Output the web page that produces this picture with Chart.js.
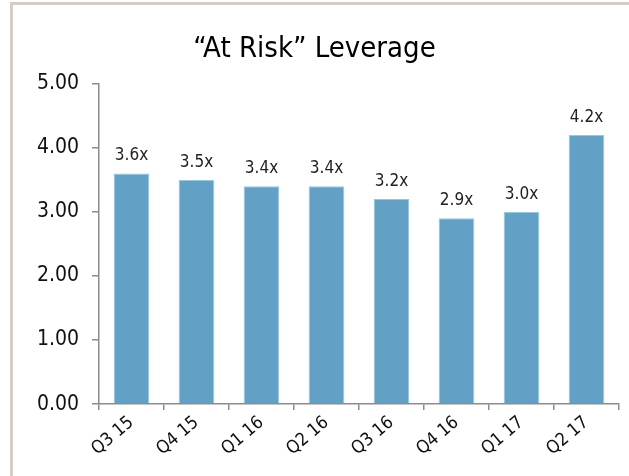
<!DOCTYPE html>
<html>
<head>
<meta charset="utf-8">
<script src="https://cdn.jsdelivr.net/npm/chart.js@4"></script>
<style>
  html, body { margin: 0; padding: 0; background: #fff; overflow: hidden; }
  #frame { position: absolute; left: 10px; top: 2px; width: 619px; height: 474px;
           border-left: 3px solid #d5cdc5; border-top: 3px solid #d5cdc5; box-sizing: border-box; }
  #wrap { position: absolute; left: 0; top: 0; width: 629px; height: 476px; }
</style>
</head>
<body>
<div id="frame"></div>
<div id="wrap"><canvas id="c" width="629" height="476"></canvas></div>
<script>
const quarters = ['Q3 15', 'Q4 15', 'Q1 16', 'Q2 16', 'Q3 16', 'Q4 16', 'Q1 17', 'Q2 17'];
const leverage = [3.6, 3.5, 3.4, 3.4, 3.2, 2.9, 3.0, 4.2];
const yTicks = [0, 1, 2, 3, 4, 5];

const fontFam = "'Liberation Sans Narrow', 'DejaVu Sans Condensed', 'Liberation Sans', sans-serif";

// draw the "3.6x" labels above each bar
const barLabels = {
  id: 'barLabels',
  afterDatasetsDraw(chart) {
    const ctx = chart.ctx;
    const meta = chart.getDatasetMeta(0);
    ctx.save();
    ctx.font = '17px ' + fontFam;
    ctx.fillStyle = '#222';
    ctx.textAlign = 'center';
    ctx.textBaseline = 'bottom';
    meta.data.forEach(function (bar, i) {
      ctx.fillText(leverage[i].toFixed(1) + 'x', bar.x, bar.y - 9);
    });
    ctx.restore();
  }
};

new Chart(document.getElementById('c').getContext('2d'), {
  type: 'bar',
  data: {
    labels: quarters,
    datasets: [{
      data: leverage,
      backgroundColor: '#62a1c5',
      borderColor: '#9cc6de',
      borderWidth: 1,
      barPercentage: 0.55,
      categoryPercentage: 1.0
    }]
  },
  options: {
    responsive: false,
    devicePixelRatio: 1,
    animation: false,
    layout: { padding: { left: 10, right: 10, top: 4, bottom: 14 } },
    plugins: {
      legend: { display: false },
      tooltip: { enabled: false },
      title: {
        display: true,
        text: '\u201cAt Risk\u201d Leverage',
        color: '#000',
        font: { family: fontFam, size: 29, weight: 'normal' },
        padding: { top: 28, bottom: 17 }
      }
    },
    scales: {
      x: {
        grid: { display: true, drawOnChartArea: false, offset: true, tickLength: 6, color: '#8c8c8c', lineWidth: 1.5 },
        border: { color: '#8c8c8c', width: 1.5 },
        ticks: { color: '#111', font: { family: fontFam, size: 18 }, maxRotation: 40, minRotation: 40, padding: 2, autoSkip: false }
      },
      y: {
        min: 0,
        max: 5,
        afterBuildTicks(scale) { scale.ticks = yTicks.map(v => ({ value: v })); },
        afterFit(scale) { scale.width = 89; },
        grid: { display: true, drawOnChartArea: false, tickLength: 7, color: '#8c8c8c', lineWidth: 1.5 },
        border: { color: '#8c8c8c', width: 1.5 },
        ticks: {
          color: '#111',
          font: { family: fontFam, size: 21 },
          padding: 13,
          callback: v => Number(v).toFixed(2)
        }
      }
    }
  },
  plugins: [barLabels]
});
</script>
</body>
</html>
